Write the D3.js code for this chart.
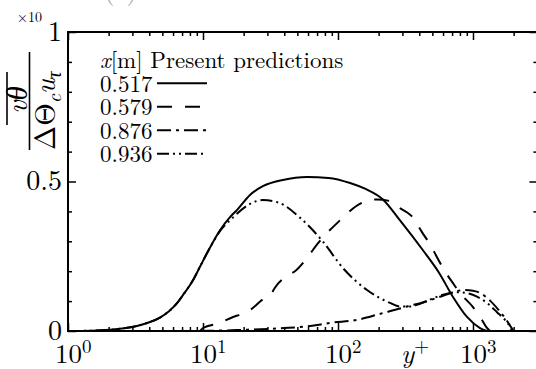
<!DOCTYPE html>
<html lang="en">
<head>
<meta charset="utf-8">
<title>Turbulent heat flux profiles</title>
<script src="https://d3js.org/d3.v7.min.js"></script>
<style>
  body { margin: 0; background: #fff; }
  svg { display: block; }
</style>
</head>
<body>
<div class="chart"></div>
<script>
// streamwise stations x[m] and their profiles (y+ , v-theta / (dTheta_c u_tau), in units of x10)
const stations = ['0.517', '0.579', '0.876', '0.936'];

const yp517 = [1, 1.5, 2.05, 2.6, 3.24, 4.05, 4.8, 5.6, 6.42, 7.1, 8.43, 9.5, 10.7, 13.4, 15.8, 17.9, 22.3, 28, 39, 59, 85, 123, 160, 215, 288, 426, 560, 711, 903, 1127, 1270];
const v517  = [0, 0.001, 0.004, 0.009, 0.017, 0.03, 0.045, 0.066, 0.093, 0.12, 0.17, 0.215, 0.26, 0.338, 0.38, 0.405, 0.455, 0.485, 0.505, 0.515, 0.512, 0.495, 0.475, 0.44, 0.37, 0.27, 0.195, 0.114, 0.047, 0.01, 0];

const yp579 = [9.5, 10, 13.4, 16.7, 18.8, 22.3, 27.4, 31.8, 34, 44, 48, 58, 70, 98, 153, 194, 240, 290, 350, 420, 480, 541, 600, 711, 801, 1000, 1166, 1260, 1336];
const v579  = [0, 0.01, 0.027, 0.047, 0.055, 0.07, 0.104, 0.122, 0.144, 0.19, 0.2, 0.24, 0.29, 0.36, 0.43, 0.44, 0.435, 0.41, 0.385, 0.33, 0.29, 0.247, 0.21, 0.16, 0.127, 0.08, 0.037, 0.012, 0];

const yp876 = [9.5, 15, 20, 30, 40, 52, 70, 87, 138, 215, 288, 341, 400, 480, 600, 700, 850, 1000, 1150, 1350, 1550, 1750, 1900, 2000];
const v876  = [0, 0.002, 0.004, 0.007, 0.01, 0.013, 0.02, 0.027, 0.037, 0.06, 0.075, 0.085, 0.092, 0.103, 0.118, 0.128, 0.137, 0.135, 0.125, 0.1, 0.07, 0.04, 0.015, 0];

const yp936 = [1, 1.5, 2.05, 2.6, 3.24, 4.05, 4.8, 5.6, 6.42, 7.1, 8.43, 9.5, 10.7, 13.4, 16.7, 22.3, 27.8, 36, 52, 77, 109, 164, 243, 288, 340, 400, 480, 642, 761, 900, 1071, 1300, 1506, 1726, 1817, 1945];
const v936  = [0, 0.001, 0.004, 0.009, 0.017, 0.03, 0.045, 0.066, 0.093, 0.12, 0.17, 0.215, 0.26, 0.335, 0.38, 0.425, 0.438, 0.43, 0.38, 0.30, 0.21, 0.137, 0.094, 0.082, 0.082, 0.09, 0.105, 0.125, 0.13, 0.127, 0.115, 0.09, 0.063, 0.037, 0.025, 0];

const xDomain = [1, 3000];
const yDomain = [0, 1];
const xMajor = [1, 10, 100, 1000];
const xMajorExp = ['0', '1', '2', '3'];
const yMajor = [0, 0.5, 1];
const yMajorLabels = ['0', '0.5', '1'];
const yMinor = [0.1, 0.2, 0.3, 0.4, 0.6, 0.7, 0.8, 0.9];

const width = 536, height = 369;
const plotL = 68, plotR = 537.4, plotT = 32, plotB = 331;
const serif = '"Latin Modern Roman", "Liberation Serif"';

const svg = d3.select('.chart').append('svg')
    .attr('width', width)
    .attr('height', height)
    .style('font-family', serif);

const x = d3.scaleLog().domain(xDomain).range([plotL, plotR]);
const y = d3.scaleLinear().domain(yDomain).range([plotB, plotT]);

// cut-off panel title above the frame
svg.append('text')
    .attr('x', 104).attr('y', -1)
    .style('font-family', serif)
    .attr('font-size', 27).attr('fill', '#aaa')
    .text('(c)');

// ticks, all pointing inward
const xMinor = x.ticks().filter(d => xMajor.indexOf(d) < 0);
function tickGroup(axis, transform) {
    const g = svg.append('g').attr('transform', transform).call(axis);
    g.select('.domain').remove();
    g.selectAll('line').attr('stroke', '#000').attr('stroke-width', 1.5);
    g.selectAll('text').remove();
    return g;
}
tickGroup(d3.axisBottom(x).tickValues(xMajor).tickSize(-8), `translate(0,${plotB})`);
tickGroup(d3.axisBottom(x).tickValues(xMinor).tickSize(-4), `translate(0,${plotB})`);
tickGroup(d3.axisTop(x).tickValues(xMajor).tickSize(-8), `translate(0,${plotT})`);
tickGroup(d3.axisTop(x).tickValues(xMinor).tickSize(-4), `translate(0,${plotT})`);
tickGroup(d3.axisLeft(y).tickValues(yMajor).tickSize(-8), `translate(${plotL},0)`);
tickGroup(d3.axisLeft(y).tickValues(yMinor).tickSize(-4), `translate(${plotL},0)`);
tickGroup(d3.axisRight(y).tickValues(yMajor).tickSize(-8), `translate(${plotR},0)`);
tickGroup(d3.axisRight(y).tickValues(yMinor).tickSize(-4), `translate(${plotR},0)`);

// frame
svg.append('rect')
    .attr('x', plotL).attr('y', plotT)
    .attr('width', plotR - plotL).attr('height', plotB - plotT)
    .attr('fill', 'none').attr('stroke', '#000').attr('stroke-width', 2);

// x tick labels 10^n
const xl = svg.selectAll('text.xlab')
    .data(xMajor)
    .enter()
    .append('text')
    .attr('class', 'xlab')
    .attr('x', d => x(d) - 13)
    .attr('y', 362.5)
    .style('font-family', serif)
    .attr('font-size', 27);
xl.append('tspan').text('10');
xl.append('tspan')
    .attr('font-size', 19)
    .attr('dy', -10)
    .text((d, i) => xMajorExp[i]);

// y tick labels
svg.selectAll('text.ylab')
    .data(yMajor)
    .enter()
    .append('text')
    .attr('class', 'ylab')
    .attr('x', 62)
    .attr('y', d => y(d) + (d === 0 ? 9 : 8.5))
    .attr('text-anchor', 'end')
    .style('font-family', serif)
    .attr('font-size', 28)
    .text((d, i) => yMajorLabels[i]);

svg.append('text')
    .attr('x', 17).attr('y', 22)
    .style('font-family', serif)
    .attr('font-size', 14)
    .text('×10');

// x axis title y+
const xt = svg.append('text').attr('x', 401).attr('y', 362.5)
    .style('font-family', serif).attr('font-size', 27);
xt.append('tspan').attr('font-style', 'italic').text('y');
xt.append('tspan').attr('font-size', 19).attr('dy', -11).text('+');

// y axis title: overline(v theta) / (Delta Theta_c u_tau)
const yt = svg.append('g').attr('transform', 'translate(29.5,101) rotate(-90)');
yt.append('line')
    .attr('x1', -49).attr('x2', 49).attr('y1', 0).attr('y2', 0)
    .attr('stroke', '#000').attr('stroke-width', 1.6);
yt.append('line')
    .attr('x1', -24).attr('x2', 29).attr('y1', -22.5).attr('y2', -22.5)
    .attr('stroke', '#000').attr('stroke-width', 1.6);
yt.append('text')
    .attr('x', 1).attr('y', -3)
    .attr('text-anchor', 'middle')
    .style('font-family', serif)
    .attr('font-size', 29)
    .attr('font-style', 'italic')
    .text('vθ');
const den = yt.append('text').attr('x', -49).attr('y', 25.5)
    .style('font-family', serif).attr('font-size', 29);
den.append('tspan').text('ΔΘ');
den.append('tspan').attr('font-size', 20).attr('font-style', 'italic').attr('dy', 6).text('c');
den.append('tspan').attr('font-style', 'italic').attr('dy', -6).text('u');
den.append('tspan').attr('font-size', 20).attr('font-style', 'italic').attr('dy', 6).text('τ');

// curves
const series = [
    { name: stations[0], yp: yp517, v: v517, dash: null },
    { name: stations[1], yp: yp579, v: v579, dash: '15,13' },
    { name: stations[2], yp: yp876, v: v876, dash: '14,5,3,5' },
    { name: stations[3], yp: yp936, v: v936, dash: '12,4,2,4,2,4' }
];

const line = d3.line()
    .x(d => x(d[0]))
    .y(d => y(d[1]))
    .curve(d3.curveMonotoneX);

svg.selectAll('path.curve')
    .data(series)
    .enter()
    .append('path')
    .attr('class', 'curve')
    .attr('d', s => line(s.yp.map((p, i) => [p, s.v[i]])))
    .attr('fill', 'none')
    .attr('stroke', '#000')
    .attr('stroke-width', 2)
    .attr('stroke-dasharray', s => s.dash);

// legend
const head = svg.append('text')
    .attr('x', 100).attr('y', 68)
    .style('font-family', serif)
    .attr('font-size', 23);
head.append('tspan').attr('font-style', 'italic').text('x');
head.append('tspan').text('[m] Present predictions');

const leg = svg.selectAll('g.leg')
    .data(series)
    .enter()
    .append('g')
    .attr('class', 'leg')
    .attr('transform', (d, i) => `translate(0,${91.7 + i * 23.5})`);
leg.append('text')
    .attr('x', 100).attr('y', 0)
    .style('font-family', serif)
    .attr('font-size', 23)
    .text(d => d.name);
leg.append('line')
    .attr('x1', 157).attr('x2', 207)
    .attr('y1', -8.5).attr('y2', -8.5)
    .attr('stroke', '#000')
    .attr('stroke-width', 2)
    .attr('stroke-dasharray', d => d.dash);
</script>
</body>
</html>
